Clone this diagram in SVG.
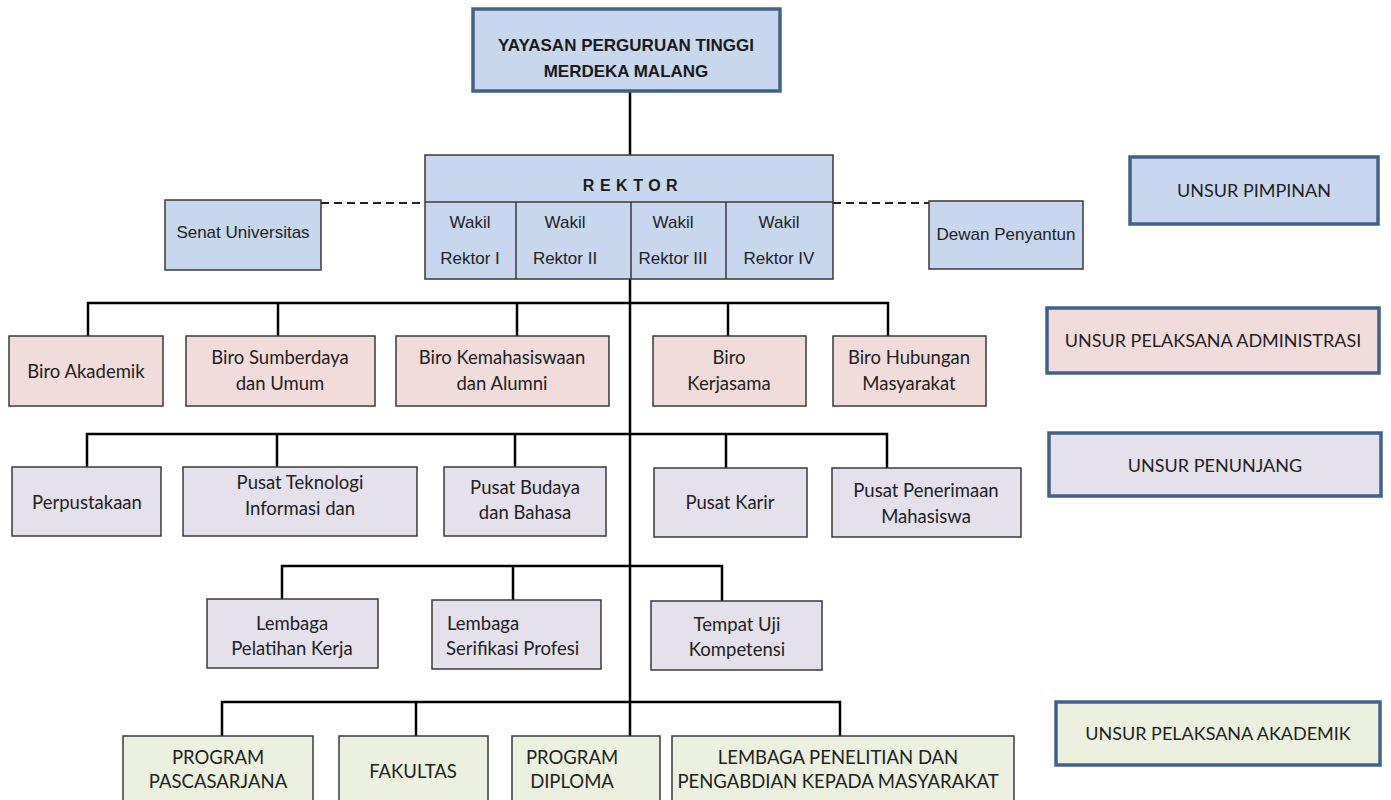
<svg xmlns="http://www.w3.org/2000/svg" width="1391" height="800" viewBox="0 0 1391 800">
<style>
.blue{fill:#c6d7ee}
.pink{fill:#f2dcdb}
.lav{fill:#e4e0ec}
.green{fill:#ebf1de}
.node{stroke:#3a3a3a;stroke-width:1.5}
.legend{stroke:#41618d;stroke-width:3.5}
.top{stroke:#41618d;stroke-width:3.5}
.ar{font-family:"Liberation Sans",Arial,sans-serif;font-size:17px;fill:#222;text-anchor:middle}
.arb{font-family:"Liberation Sans",Arial,sans-serif;font-size:17px;font-weight:bold;fill:#1a1a1a;text-anchor:middle}
.cal{font-family:Lato,"Open Sans",sans-serif;font-size:18.5px;fill:#222;text-anchor:middle}
.leg{font-family:Lato,"Open Sans",sans-serif;font-size:18px;fill:#222;text-anchor:middle}
.line{stroke:#000;stroke-width:2.5;fill:none}
.dash{stroke:#222;stroke-width:2;stroke-dasharray:8 5;fill:none}
</style>
<rect width="1391" height="800" fill="#ffffff"/>
<g id="connectors">
<line class="line" x1="630" y1="91" x2="630" y2="155"/>
<line class="line" x1="630" y1="279" x2="630" y2="736"/>
<line class="dash" x1="321" y1="203" x2="425" y2="203"/>
<line class="dash" x1="833" y1="203" x2="929" y2="203"/>
<polyline class="line" points="88,336 88,303 888,303 888,336"/>
<line class="line" x1="278" y1="303" x2="278" y2="336"/>
<line class="line" x1="517" y1="303" x2="517" y2="336"/>
<line class="line" x1="728" y1="303" x2="728" y2="336"/>
<polyline class="line" points="87,467 87,434 887,434 887,468"/>
<line class="line" x1="277" y1="434" x2="277" y2="467"/>
<line class="line" x1="515" y1="434" x2="515" y2="467"/>
<line class="line" x1="726" y1="434" x2="726" y2="468"/>
<polyline class="line" points="282,599 282,566 722,566 722,601"/>
<line class="line" x1="513" y1="566" x2="513" y2="600"/>
<polyline class="line" points="222,736 222,702 840,702 840,736"/>
<line class="line" x1="416" y1="702" x2="416" y2="736"/>
</g>
<g id="yayasan">
<rect class="blue top" x="473" y="9" width="307" height="82"/>
<text class="arb" x="626" y="51">YAYASAN PERGURUAN TINGGI</text>
<text class="arb" x="626" y="77">MERDEKA MALANG</text>
</g>
<g id="rektor">
<rect class="blue node" x="425" y="155" width="408" height="124"/>
<line class="node" x1="425" y1="202" x2="833" y2="202"/>
<line class="node" x1="516" y1="202" x2="516" y2="279"/>
<line class="node" x1="631" y1="202" x2="631" y2="279"/>
<line class="node" x1="726" y1="202" x2="726" y2="279"/>
<text class="arb" x="633" y="191" style="font-size:16px;letter-spacing:5.5px">REKTOR</text>
<text class="ar" x="470" y="228">Wakil</text>
<text class="ar" x="470" y="264">Rektor I</text>
<text class="ar" x="565" y="228">Wakil</text>
<text class="ar" x="565" y="264">Rektor II</text>
<text class="ar" x="673" y="228">Wakil</text>
<text class="ar" x="673" y="264">Rektor III</text>
<text class="ar" x="779" y="228">Wakil</text>
<text class="ar" x="779" y="264">Rektor IV</text>
</g>
<g id="senat">
<rect class="blue node" x="165" y="200" width="156" height="70"/>
<text class="ar" x="243" y="238">Senat Universitas</text>
</g>
<g id="dewan">
<rect class="blue node" x="929" y="201" width="154" height="68"/>
<text class="ar" x="1006" y="240">Dewan Penyantun</text>
</g>
<g id="biro-akademik">
<rect class="pink node" x="9" y="336" width="154" height="70"/>
<text class="cal" x="86" y="378">Biro Akademik</text>
</g>
<g id="biro-sumberdaya">
<rect class="pink node" x="186" y="336" width="189" height="70"/>
<text class="cal" x="280" y="364">Biro Sumberdaya</text>
<text class="cal" x="280" y="390">dan Umum</text>
</g>
<g id="biro-kemahasiswaan">
<rect class="pink node" x="396" y="336" width="213" height="70"/>
<text class="cal" x="502" y="364">Biro Kemahasiswaan</text>
<text class="cal" x="502" y="390">dan Alumni</text>
</g>
<g id="biro-kerjasama">
<rect class="pink node" x="653" y="336" width="153" height="70"/>
<text class="cal" x="729" y="364">Biro</text>
<text class="cal" x="729" y="390">Kerjasama</text>
</g>
<g id="biro-hubungan">
<rect class="pink node" x="833" y="336" width="153" height="70"/>
<text class="cal" x="909" y="364">Biro Hubungan</text>
<text class="cal" x="909" y="390">Masyarakat</text>
</g>
<g id="perpustakaan">
<rect class="lav node" x="12" y="467" width="149" height="69"/>
<text class="cal" x="87" y="509">Perpustakaan</text>
</g>
<g id="pusat-teknologi">
<rect class="lav node" x="183" y="467" width="234" height="69"/>
<text class="cal" x="300" y="489">Pusat Teknologi</text>
<text class="cal" x="300" y="515">Informasi dan</text>
</g>
<g id="pusat-budaya">
<rect class="lav node" x="444" y="467" width="162" height="69"/>
<text class="cal" x="525" y="494">Pusat Budaya</text>
<text class="cal" x="525" y="519">dan Bahasa</text>
</g>
<g id="pusat-karir">
<rect class="lav node" x="654" y="468" width="153" height="69"/>
<text class="cal" x="730" y="509">Pusat Karir</text>
</g>
<g id="pusat-penerimaan">
<rect class="lav node" x="832" y="468" width="189" height="69"/>
<text class="cal" x="926" y="497">Pusat Penerimaan</text>
<text class="cal" x="926" y="523">Mahasiswa</text>
</g>
<g id="lembaga-pelatihan">
<rect class="lav node" x="207" y="599" width="171" height="69"/>
<text class="cal" x="292" y="630">Lembaga</text>
<text class="cal" x="292" y="655">Pelatihan Kerja</text>
</g>
<g id="lembaga-serifikasi">
<rect class="lav node" x="432" y="600" width="169" height="69"/>
<text class="cal" x="447" y="630" style="text-anchor:start">Lembaga</text>
<text class="cal" x="446" y="655" style="text-anchor:start">Serifikasi Profesi</text>
</g>
<g id="tempat-uji">
<rect class="lav node" x="651" y="601" width="171" height="69"/>
<text class="cal" x="737" y="631">Tempat Uji</text>
<text class="cal" x="737" y="656">Kompetensi</text>
</g>
<g id="pascasarjana">
<rect class="green node" x="123" y="736" width="190" height="70"/>
<text class="cal" x="218" y="764">PROGRAM</text>
<text class="cal" x="218" y="788">PASCASARJANA</text>
</g>
<g id="fakultas">
<rect class="green node" x="339" y="736" width="149" height="70"/>
<text class="cal" x="413" y="778">FAKULTAS</text>
</g>
<g id="diploma">
<rect class="green node" x="512" y="736" width="148" height="70"/>
<text class="cal" x="572" y="764">PROGRAM</text>
<text class="cal" x="572" y="788">DIPLOMA</text>
</g>
<g id="lppm">
<rect class="green node" x="672" y="736" width="342" height="70"/>
<text class="cal" x="838" y="764">LEMBAGA PENELITIAN DAN</text>
<text class="cal" x="838" y="788">PENGABDIAN KEPADA MASYARAKAT</text>
</g>
<g id="legend-pimpinan">
<rect class="blue legend" x="1130" y="157" width="248" height="67"/>
<text class="leg" x="1254" y="197">UNSUR PIMPINAN</text>
</g>
<g id="legend-administrasi">
<rect class="pink legend" x="1047" y="308" width="332" height="65"/>
<text class="leg" x="1213" y="347">UNSUR PELAKSANA ADMINISTRASI</text>
</g>
<g id="legend-penunjang">
<rect class="lav legend" x="1049" y="433" width="332" height="63"/>
<text class="leg" x="1215" y="472">UNSUR PENUNJANG</text>
</g>
<g id="legend-akademik">
<rect class="green legend" x="1056" y="702" width="324" height="63"/>
<text class="leg" x="1218" y="740">UNSUR PELAKSANA AKADEMIK</text>
</g>
</svg>
